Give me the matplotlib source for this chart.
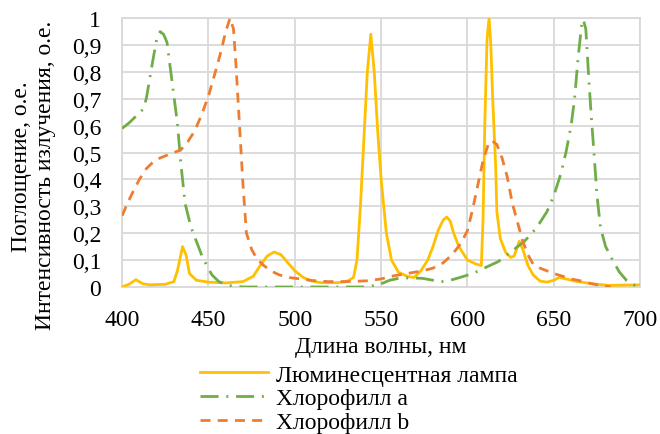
import matplotlib
matplotlib.use('Agg')
import matplotlib.pyplot as plt
from matplotlib.ticker import FuncFormatter

# Люминесцентная лампа (emission)
lamp_x = [400, 404, 408, 412, 416, 425, 430, 432, 435, 437, 439, 443, 450, 460, 470,
          476, 480, 484, 488, 492, 496, 500, 505, 510, 515, 525, 530, 534, 536, 538,
          540, 542, 544, 546, 548, 550, 553, 556, 560, 565, 569, 573, 577, 580, 583,
          586, 588, 590, 592, 595, 600, 605, 608, 609, 610, 611.3, 612.5, 613.5, 614.6,
          616.3, 617, 619, 622, 625, 627, 630, 632, 635, 638, 642, 646, 650, 653, 657,
          662, 668, 675, 682, 690, 700]
lamp_y = [0.0, 0.01, 0.027, 0.012, 0.008, 0.01, 0.02, 0.06, 0.15, 0.12, 0.05, 0.025,
          0.018, 0.015, 0.02, 0.04, 0.08, 0.115, 0.13, 0.12, 0.09, 0.06, 0.035, 0.022,
          0.016, 0.016, 0.02, 0.035, 0.1, 0.3, 0.55, 0.8, 0.94, 0.8, 0.58, 0.4, 0.2,
          0.1, 0.055, 0.04, 0.035, 0.06, 0.1, 0.15, 0.21, 0.25, 0.26, 0.245, 0.2, 0.15,
          0.1, 0.085, 0.08, 0.25, 0.6, 0.92, 1.0, 0.9, 0.7, 0.45, 0.28, 0.18, 0.13,
          0.11, 0.115, 0.17, 0.14, 0.08, 0.045, 0.022, 0.018, 0.025, 0.035, 0.03,
          0.022, 0.016, 0.01, 0.006, 0.007, 0.008]

# Хлорофилл a (absorption)
chla_x = [400, 404, 408, 412, 414, 418, 420, 422, 424, 426, 429, 432, 434, 436.5, 440,
          443, 446, 449, 452, 456, 462, 470, 540, 546, 550, 555, 560, 567, 574, 580,
          585, 590, 596, 603, 611, 618, 626, 633, 640, 646, 650, 654, 657, 660, 662,
          664, 666, 667, 668.5, 670, 671.5, 673, 675, 677, 680, 684, 688, 692, 696, 700]
chla_y = [0.59, 0.61, 0.635, 0.66, 0.7, 0.85, 0.92, 0.95, 0.94, 0.91, 0.76, 0.61, 0.46,
          0.31, 0.22, 0.17, 0.12, 0.08, 0.045, 0.02, 0.005, 0.0, 0.0, 0.005, 0.012,
          0.025, 0.032, 0.034, 0.032, 0.025, 0.02, 0.025, 0.036, 0.05, 0.074, 0.095,
          0.135, 0.17, 0.22, 0.28, 0.34, 0.42, 0.5, 0.6, 0.7, 0.85, 0.97, 0.995, 0.96,
          0.8, 0.65, 0.52, 0.34, 0.22, 0.15, 0.1, 0.055, 0.025, 0.008, 0.0]

# Хлорофилл b (absorption)
chlb_x = [400, 403, 406, 410, 414, 418, 422, 426, 430, 434, 438, 442, 446, 450, 454,
          457, 460, 462.5, 464.5, 466, 468, 470, 472, 475, 478, 482, 486, 491, 497,
          503, 510, 519, 530, 542, 550, 556, 565, 574, 580, 586, 591, 596, 600, 603,
          606, 609, 612, 614, 617, 620, 623, 626, 629, 632, 635, 638, 642, 646, 650,
          655, 660, 666, 672, 678, 683]
chlb_y = [0.265, 0.31, 0.35, 0.4, 0.44, 0.465, 0.48, 0.49, 0.5, 0.51, 0.54, 0.58, 0.64,
          0.71, 0.8, 0.87, 0.95, 1.0, 0.96, 0.82, 0.6, 0.38, 0.2, 0.14, 0.105, 0.08,
          0.06, 0.045, 0.035, 0.03, 0.024, 0.02, 0.02, 0.023, 0.03, 0.04, 0.05, 0.06,
          0.07, 0.09, 0.12, 0.16, 0.21, 0.29, 0.38, 0.47, 0.53, 0.545, 0.53, 0.48,
          0.41, 0.31, 0.24, 0.17, 0.12, 0.085, 0.07, 0.06, 0.05, 0.04, 0.03, 0.022,
          0.012, 0.004, 0.0]

x_ticks = [400, 450, 500, 550, 600, 650, 700]
y_ticks = [0, 0.1, 0.2, 0.3, 0.4, 0.5, 0.6, 0.7, 0.8, 0.9, 1.0]

plt.rcParams['font.family'] = ['Liberation Serif', 'DejaVu Serif']
FS = 17

fig = plt.figure(figsize=(6.6, 4.35), dpi=100)
ax = fig.add_axes([0.185, 0.338, 0.785, 0.618])

grid_c = '#d9d9d9'
LW = 2.0
l_lamp, = ax.plot(lamp_x, lamp_y, color='#FFC000', lw=LW, zorder=3)
l_a, = ax.plot(chla_x, chla_y, color='#70AD47', lw=LW, zorder=3,
               dashes=(6.5, 2.8, 0.7, 2.8))
l_b, = ax.plot(chlb_x, chlb_y, color='#ED7D31', lw=LW, zorder=3,
               dashes=(3.6, 2.6))

ax.set_xlim(400, 700)
ax.set_ylim(0, 1)
ax.set_xticks(x_ticks)
ax.set_yticks(y_ticks)
ax.yaxis.set_major_formatter(FuncFormatter(lambda v, p: ('%g' % round(v, 1)).replace('.', ',')))
ax.tick_params(length=0, labelsize=FS, colors='black')
ax.tick_params(axis='y', pad=15)
ax.tick_params(axis='x', pad=16)
ax.grid(True, color=grid_c, lw=1.3)
for s in ax.spines.values():
    s.set_color(grid_c)
    s.set_linewidth(1.3)

ax.set_xlabel('Длина волны, нм', fontsize=FS, labelpad=4)
fig.text(22 / 660, 1 - 167 / 435, 'Поглощение, о.е.', rotation=90,
         ha='center', va='center', fontsize=FS)
fig.text(46 / 660, 1 - 175 / 435, 'Интенсивность излучения, о.е.', rotation=90,
         ha='center', va='center', fontsize=FS)

fig.legend([l_lamp, l_a, l_b],
           ['Люминесцентная лампа', 'Хлорофилл а', 'Хлорофилл b'],
           loc='upper left', bbox_to_anchor=(200 / 660, 1 - 365 / 435),
           frameon=False, fontsize=FS, handlelength=2.9, handletextpad=0.3,
           labelspacing=0.1, borderpad=0, borderaxespad=0)

fig.savefig('out.png', dpi=100)
